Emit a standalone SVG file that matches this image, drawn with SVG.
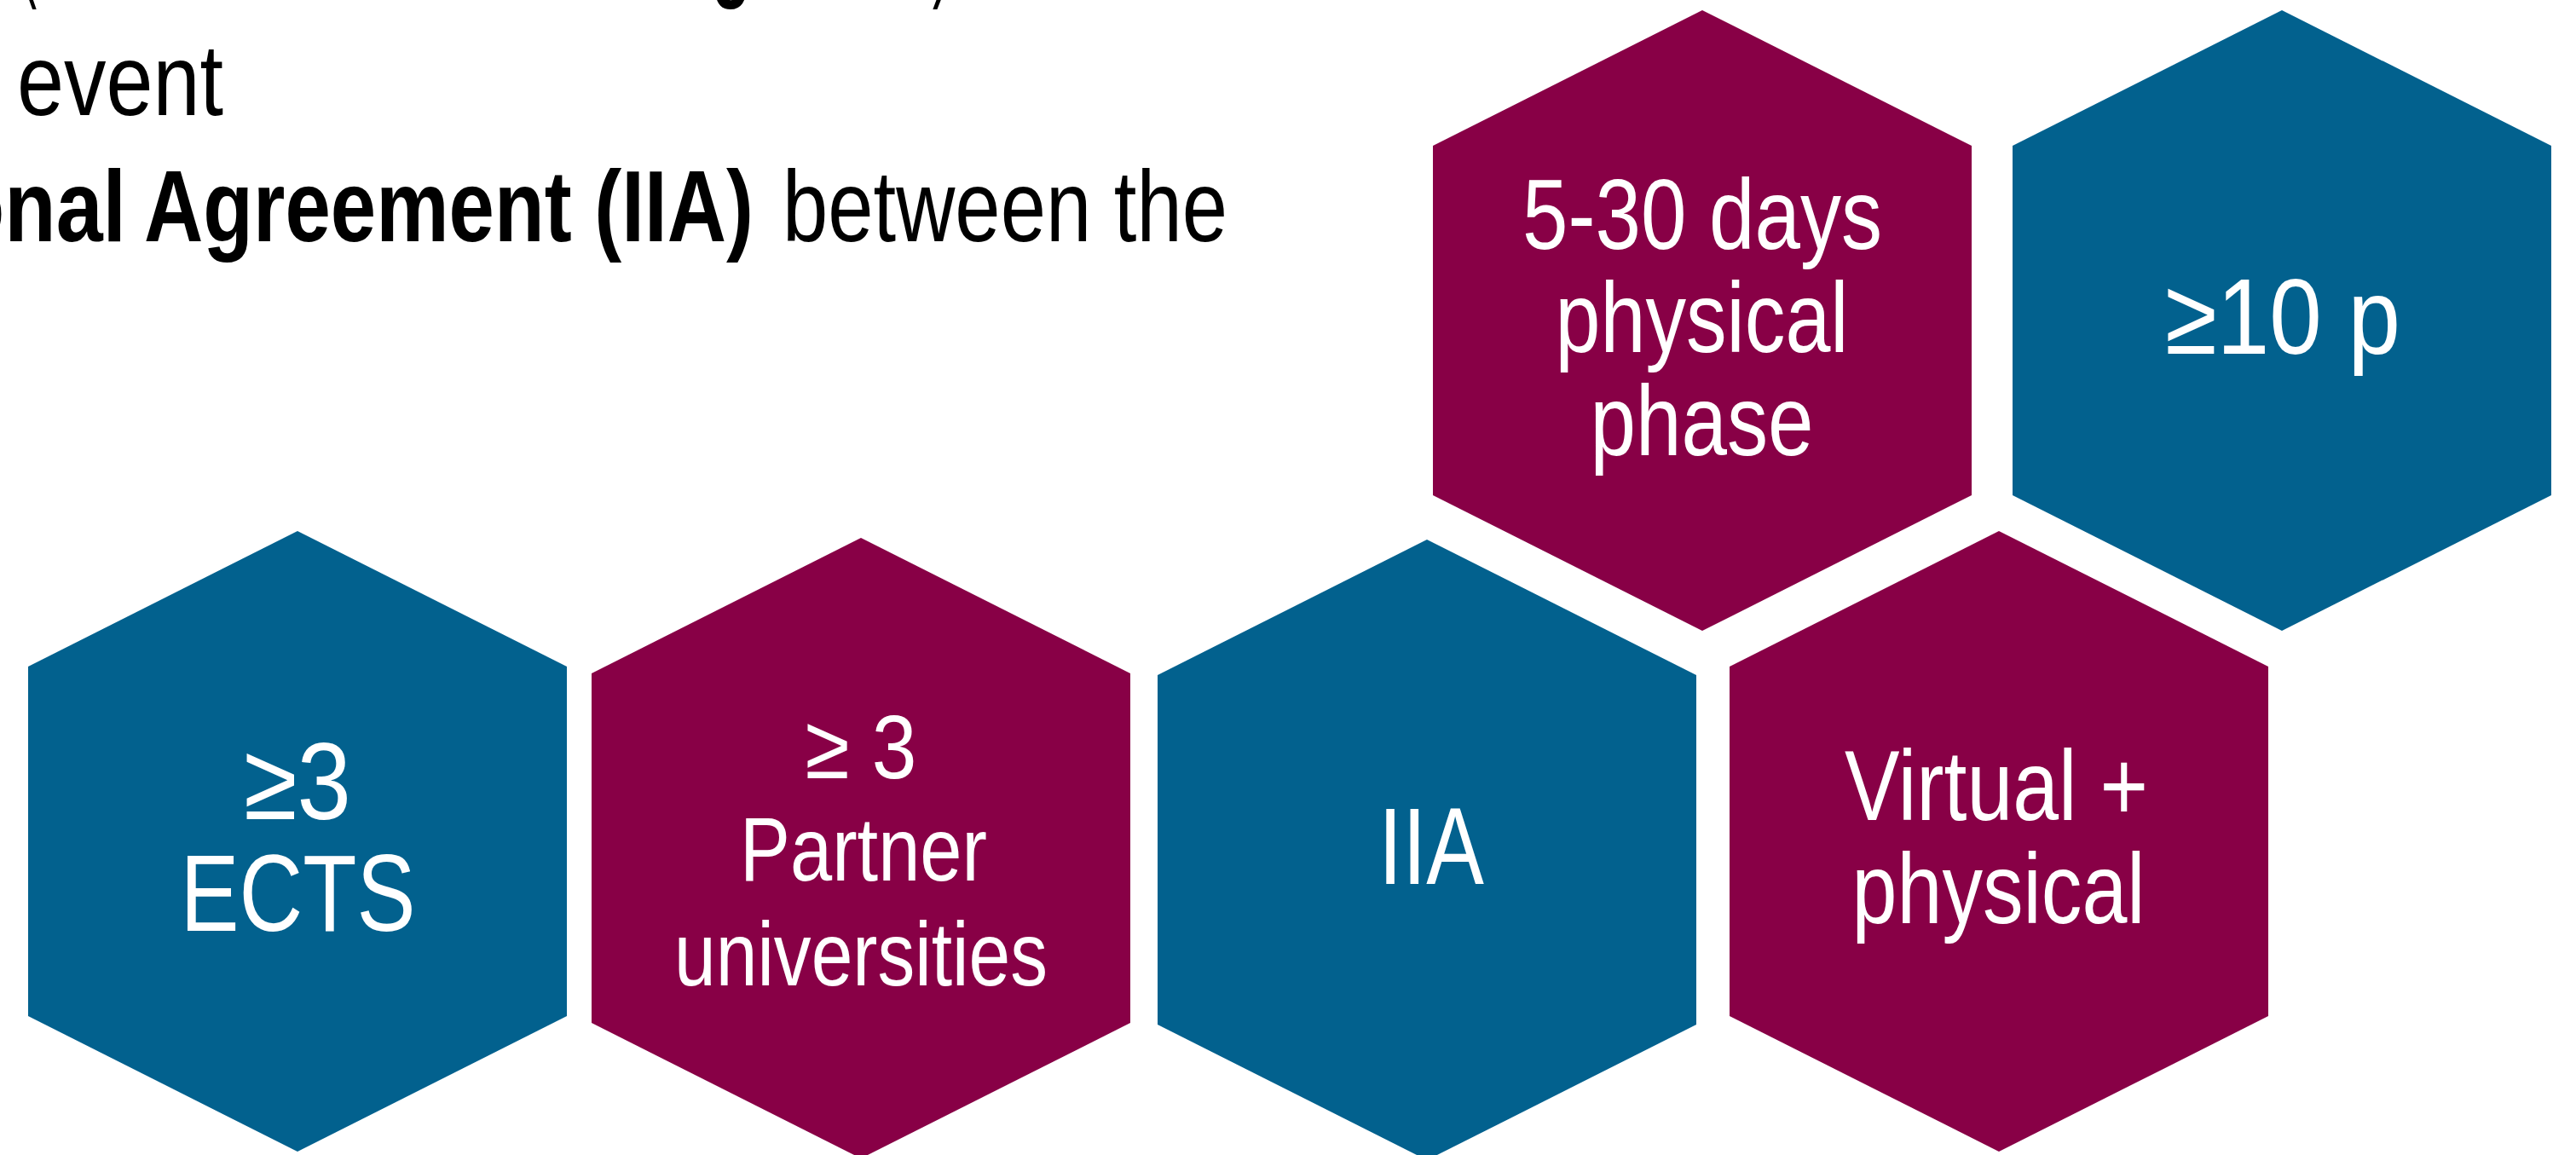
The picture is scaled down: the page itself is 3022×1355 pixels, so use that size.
<svg xmlns="http://www.w3.org/2000/svg" width="3022" height="1355" viewBox="0 0 3022 1355">
<style>
.bg{fill:#ffffff}
.blue{fill:#02618E}
.mag{fill:#880046}
.t{font-family:"Liberation Sans Narrow","Arial Narrow","Liberation Sans",Arial,sans-serif;fill:#ffffff;text-anchor:middle}
.b{font-family:"Liberation Sans Narrow","Arial Narrow","Liberation Sans",Arial,sans-serif;fill:#000000;font-size:118px}
.bold{font-weight:bold}
</style>
<rect class="bg" x="0" y="0" width="3022" height="1355"/>
<g id="body-text">
<text class="b" x="25" y="-14" textLength="18" lengthAdjust="spacingAndGlyphs">(</text>
<text class="b bold" x="835" y="-14" textLength="46" lengthAdjust="spacingAndGlyphs">g</text>
<text class="b" x="1094" y="-14" textLength="20" lengthAdjust="spacingAndGlyphs">)</text>
<text class="b" x="20" y="135" textLength="242" lengthAdjust="spacingAndGlyphs">event</text>
<text class="b bold" x="-55" y="283" textLength="203" lengthAdjust="spacingAndGlyphs">onal</text>
<text class="b bold" x="169" y="283" textLength="715" lengthAdjust="spacingAndGlyphs">Agreement (IIA)</text>
<text class="b" x="918" y="283" textLength="522" lengthAdjust="spacingAndGlyphs">between the</text>
</g>
<g id="connectors"></g>
<g id="hex-ects">
<polygon class="blue" points="349,623 665,782 665,1192 349,1351 33,1192 33,782"/>
<text class="t" x="349" y="961" font-size="128" textLength="126" lengthAdjust="spacingAndGlyphs">≥3</text>
<text class="t" x="349.5" y="1092" font-size="128" textLength="276" lengthAdjust="spacingAndGlyphs">ECTS</text>
</g>
<g id="hex-partners">
<polygon class="mag" points="1010,631 1326,790 1326,1200 1010,1359 694,1200 694,790"/>
<text class="t" x="1010" y="913" font-size="106" textLength="131" lengthAdjust="spacingAndGlyphs">≥ 3</text>
<text class="t" x="1013" y="1033" font-size="106" textLength="290" lengthAdjust="spacingAndGlyphs">Partner</text>
<text class="t" x="1010" y="1156" font-size="106" textLength="438" lengthAdjust="spacingAndGlyphs">universities</text>
</g>
<g id="hex-iia">
<polygon class="blue" points="1674,633 1990,792 1990,1202 1674,1361 1358,1202 1358,792"/>
<text class="t" x="1679" y="1037" font-size="128" textLength="124" lengthAdjust="spacingAndGlyphs">IIA</text>
</g>
<g id="hex-virtual">
<polygon class="mag" points="2345,623 2661,782 2661,1192 2345,1351 2029,1192 2029,782"/>
<text class="t" x="2342" y="962" font-size="117" textLength="356" lengthAdjust="spacingAndGlyphs">Virtual +</text>
<text class="t" x="2344.5" y="1083" font-size="117" textLength="344" lengthAdjust="spacingAndGlyphs">physical</text>
</g>
<g id="hex-days">
<polygon class="mag" points="1997,12 2313,171 2313,581 1997,740 1681,581 1681,171"/>
<text class="t" x="1997" y="292" font-size="117" textLength="422" lengthAdjust="spacingAndGlyphs">5-30 days</text>
<text class="t" x="1996.5" y="413" font-size="117" textLength="344" lengthAdjust="spacingAndGlyphs">physical</text>
<text class="t" x="1996.5" y="534" font-size="117" textLength="262" lengthAdjust="spacingAndGlyphs">phase</text>
</g>
<g id="hex-participants">
<polygon class="blue" points="2677,12 2993,171 2993,581 2677,740 2361,581 2361,171"/>
<text class="t" x="2678" y="415" font-size="127" textLength="276" lengthAdjust="spacingAndGlyphs">≥10 p</text>
</g>
</svg>
